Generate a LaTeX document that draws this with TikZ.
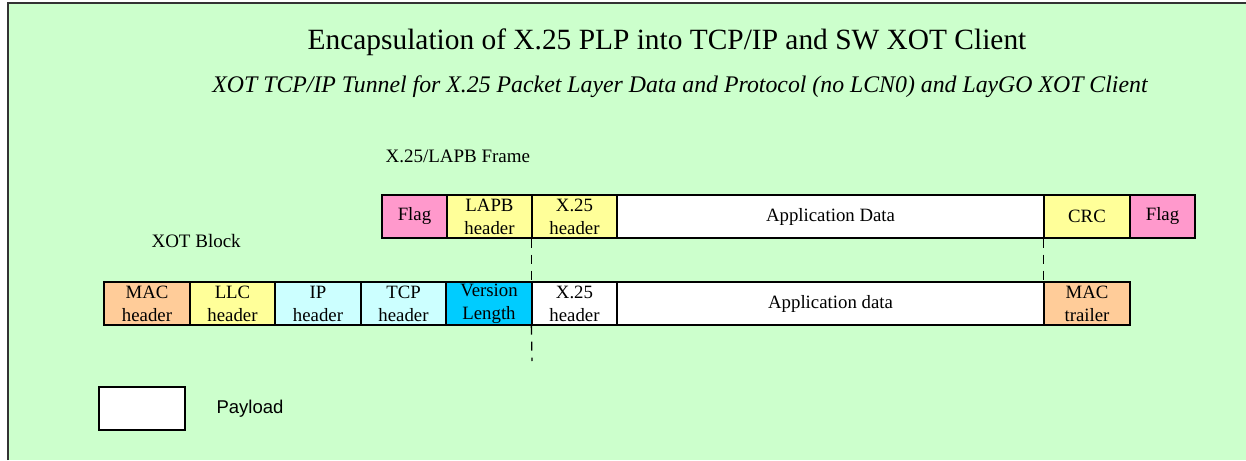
\documentclass[tikz,border=0pt]{standalone}
\usepackage{fontspec}
\setmainfont{Liberation Serif}
\newfontfamily\legendfont{Liberation Sans}
\definecolor{bggreen}{HTML}{CCFFCC}
\definecolor{flagpink}{HTML}{FF99CC}
\definecolor{hdryellow}{HTML}{FFFF99}
\definecolor{macorange}{HTML}{FFCC99}
\definecolor{iplight}{HTML}{CCFFFF}
\definecolor{vercyan}{HTML}{00CCFF}
\begin{document}
\begin{tikzpicture}
[x=1pt,y=-1pt,
  boxdecorate/.style={shape=rectangle,draw,line width=1.3pt,inner sep=0pt,
    minimum height=43pt,align=center,font=\fontsize{18.8}{23}\selectfont},%
  dashdecorate/.style={line width=1.3pt,dash pattern=on 9pt off 7pt}]
\useasboundingbox (0,0) rectangle (1246,460);
%% background
\fill[bggreen] (8,3) rectangle (1246,460);
\draw[line width=1.5pt,black!80] (8,460) -- (8,3) -- (1246,3);
%% titles
\node (title) at (667,42) {\fontsize{29.4}{29.4}\selectfont Encapsulation of X.25 PLP into TCP/IP and SW XOT Client};
\node (subtitle) at (680,87) {\fontsize{23.8}{23.8}\selectfont\itshape XOT TCP/IP Tunnel for X.25 Packet Layer Data and Protocol (no LCN0) and LayGO XOT Client};
\node[anchor=west] (framelabel) at (382,156) {\fontsize{19}{19}\selectfont X.25/LAPB Frame};
\node[anchor=west] (blocklabel) at (148,241) {\fontsize{19}{19}\selectfont XOT Block};
%% dashed guides end
\coordinate (guideend) at (532,361);
%% X.25/LAPB frame
\foreach \nodename/\x/\w/\col/\txt in {flagA/414.5/65/flagpink/Flag,
    lapb/489.5/85/hdryellow/LAPB\\header, xtop/574.5/85/hdryellow/X.25\\header,
    appA/830.5/427/white/Application Data, crc/1087/86/hdryellow/CRC,
    flagB/1162.5/65/flagpink/Flag} {
  \node (\nodename) at (\x,216.5) [boxdecorate,minimum width=\w pt,fill=\col] {\txt};
}
%% XOT block
\foreach \nodename/\x/\w/\col/\txt in {mach/147/86/macorange/MAC\\header,
    llc/232.5/85/hdryellow/LLC\\header, ip/318/86/iplight/IP\\header,
    tcp/403.5/85/iplight/TCP\\header, ver/489/86/vercyan/Version\\Length,
    xbot/574.5/85/white/X.25\\header, appB/830.5/427/white/Application data,
    mact/1087/86/macorange/MAC\\trailer} {
  \node (\nodename) at (\x,303.5) [boxdecorate,minimum width=\w pt,fill=\col] {\txt};
}
%% dashed guides
\draw[dashdecorate] (xtop.south west) -- (xbot.north west);
\draw[dashdecorate] (xbot.south west) -- (guideend);
\draw[dashdecorate] (crc.south west) -- (mact.north west);
%% legend
\node (legendbox) at (142,408.5) [boxdecorate,minimum width=86pt,fill=white] {};
\node[anchor=west] (legendlabel) at (213,408.5) {\legendfont\fontsize{18.5}{18.5}\selectfont Payload};
\end{tikzpicture}
\end{document}
